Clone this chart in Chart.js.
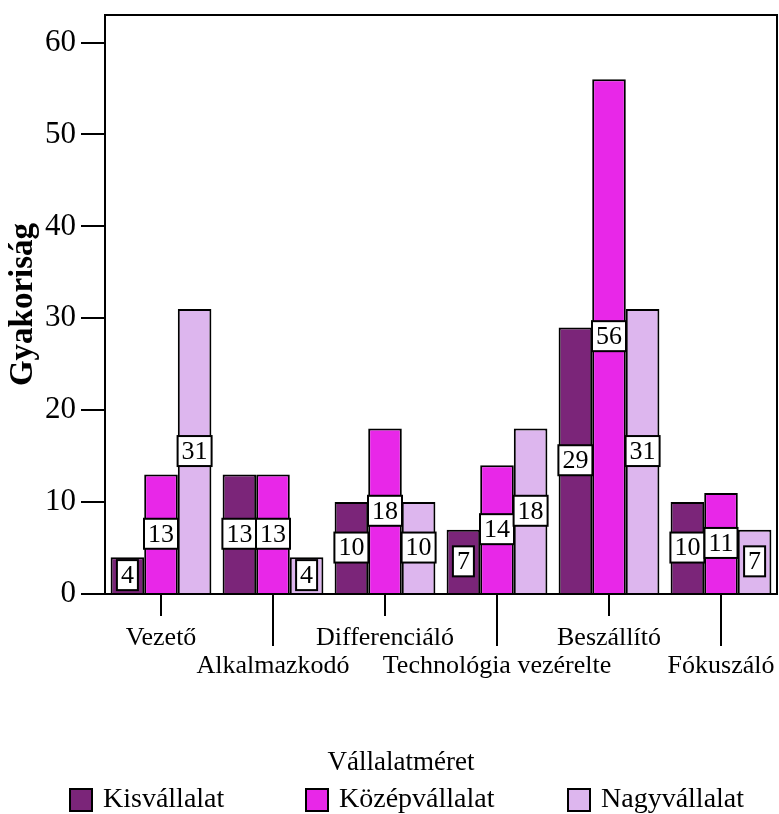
<!DOCTYPE html>
<html>
<head>
<meta charset="utf-8">
<script src="https://cdn.jsdelivr.net/npm/chart.js@4"></script>
<style>
  body { margin: 0; background: #fff; }
  #wrap { width: 779px; height: 814px; }
</style>
</head>
<body>
<div id="wrap"><canvas id="myChart" width="779" height="814"></canvas></div>
<script>
// categories and series
const categories = ['Vezető', 'Alkalmazkodó', 'Differenciáló', 'Technológia vezérelte', 'Beszállító', 'Fókuszáló'];
const kisvallalat = [4, 13, 10, 7, 29, 10];
const kozepvallalat = [13, 13, 18, 14, 56, 11];
const nagyvallalat = [31, 4, 10, 18, 31, 7];
const yTicks = [0, 10, 20, 30, 40, 50, 60];
const legendTitle = 'Vállalatméret';

const serif = 'Liberation Serif, Times New Roman, serif';

// white boxes with the value in the middle of each bar
const valueBoxes = {
    id: 'valueBoxes',
    afterDatasetsDraw(chart) {
        const ctx = chart.ctx;
        ctx.save();
        ctx.font = '26px ' + serif;
        ctx.textAlign = 'center';
        ctx.textBaseline = 'middle';
        chart.data.datasets.forEach((ds, di) => {
            chart.getDatasetMeta(di).data.forEach((bar, i) => {
                const txt = String(ds.data[i]);
                const w = ctx.measureText(txt).width + 8;
                const h = 30;
                const cx = bar.x;
                const cy = (bar.y + bar.base) / 2;
                ctx.fillStyle = '#fff';
                ctx.fillRect(cx - w / 2, cy - h / 2, w, h);
                ctx.lineWidth = 2;
                ctx.strokeStyle = '#000';
                ctx.strokeRect(cx - w / 2, cy - h / 2, w, h);
                ctx.fillStyle = '#000';
                ctx.fillText(txt, cx, cy + 1);
            });
        });
        ctx.restore();
    }
};

// plot frame, staggered category ticks, and the legend underneath
const frame = {
    id: 'frame',
    afterDraw(chart) {
        const ctx = chart.ctx;
        const a = chart.chartArea;
        const x = chart.scales.x;
        ctx.save();
        ctx.strokeStyle = '#000';
        ctx.lineWidth = 2;
        ctx.strokeRect(a.left, a.top, a.right - a.left, a.bottom - a.top);
        categories.forEach((c, i) => {
            const px = x.getPixelForTick(i);
            const len = i % 2 ? 52 : 22;
            ctx.beginPath();
            ctx.moveTo(px, a.bottom);
            ctx.lineTo(px, a.bottom + len);
            ctx.stroke();
        });

        // legend
        ctx.fillStyle = '#000';
        ctx.textBaseline = 'middle';
        ctx.textAlign = 'center';
        ctx.font = '27px ' + serif;
        ctx.fillText(legendTitle, 401, 763);
        ctx.textAlign = 'left';
        ctx.font = '28px ' + serif;
        const starts = [69, 305, 567];
        chart.data.datasets.forEach((ds, i) => {
            const bx = starts[i];
            ctx.fillStyle = ds.backgroundColor;
            ctx.fillRect(bx, 788, 24, 24);
            ctx.lineWidth = 2;
            ctx.strokeStyle = '#000';
            ctx.strokeRect(bx + 1, 789, 22, 22);
            ctx.fillStyle = '#000';
            ctx.fillText(ds.label, bx + 34, 800);
        });
        ctx.restore();
    }
};

const ctx = document.getElementById('myChart').getContext('2d');
new Chart(ctx, {
    type: 'bar',
    data: {
        labels: categories,
        datasets: [
            { label: 'Kisvállalat', data: kisvallalat, backgroundColor: '#7b2579', borderColor: '#000', borderWidth: 2 },
            { label: 'Középvállalat', data: kozepvallalat, backgroundColor: '#e827e8', borderColor: '#000', borderWidth: 2 },
            { label: 'Nagyvállalat', data: nagyvallalat, backgroundColor: '#ddb6ee', borderColor: '#000', borderWidth: 2 }
        ]
    },
    options: {
        responsive: false,
        animation: false,
        layout: { padding: { top: 15, right: 2, left: 0, bottom: 0 } },
        datasets: { bar: { categoryPercentage: 0.9, barPercentage: 1 } },
        plugins: {
            tooltip: { enabled: false },
            legend: { display: false }
        },
        scales: {
            x: {
                grid: { display: false, drawTicks: false },
                border: { display: true, color: '#000', width: 2 },
                ticks: {
                    color: '#000',
                    font: { family: serif, size: 26, lineHeight: 1.05 },
                    maxRotation: 0,
                    minRotation: 0,
                    autoSkip: false,
                    padding: 31,
                    callback: (v, i) => (i % 2 ? ['', categories[i]] : categories[i])
                },
                afterFit: (s) => {
                    s.height = 220;
                    s.paddingLeft = 0;
                    s.paddingRight = 0;
                }
            },
            y: {
                min: 0,
                max: 63,
                afterBuildTicks: (s) => { s.ticks = yTicks.map(v => ({ value: v })); },
                grid: {
                    drawOnChartArea: false,
                    drawTicks: true,
                    tickLength: 24,
                    color: '#000',
                    lineWidth: 2
                },
                border: { display: true, color: '#000', width: 2 },
                ticks: {
                    color: '#000',
                    font: { family: serif, size: 31 },
                    padding: 5
                },
                title: {
                    display: true,
                    text: 'Gyakoriság',
                    color: '#000',
                    font: { family: serif, size: 33, weight: 'bold' },
                    padding: { top: 4, bottom: 0 }
                },
                afterFit: (s) => {
                    s.width = 105;
                    s.paddingTop = 0;
                    s.paddingBottom = 0;
                }
            }
        }
    },
    plugins: [valueBoxes, frame]
});
</script>
</body>
</html>
